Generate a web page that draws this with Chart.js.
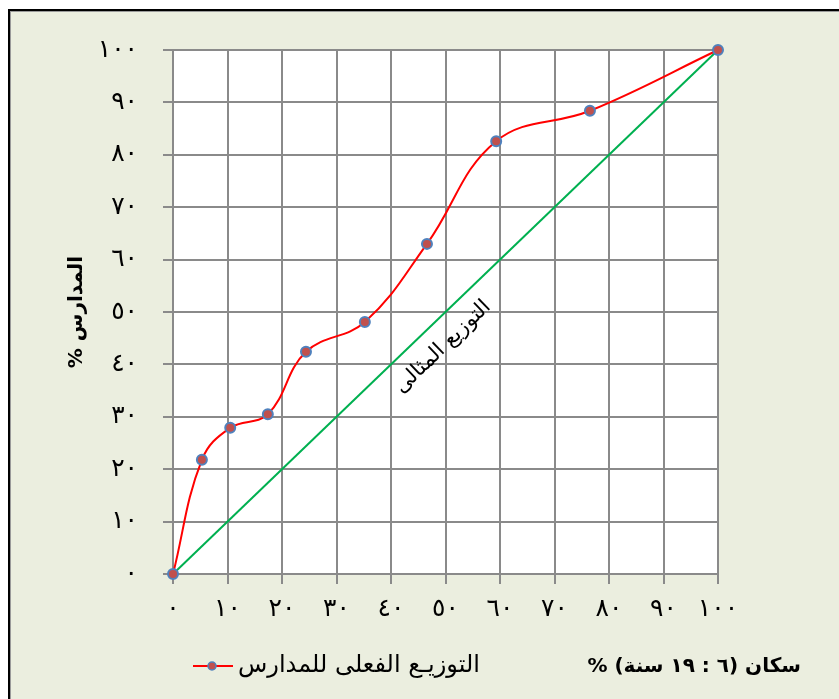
<!DOCTYPE html>
<html>
<head>
<meta charset="utf-8">
<script src="https://cdn.jsdelivr.net/npm/chart.js@4/dist/chart.umd.min.js"></script>
<style>
  html, body { margin: 0; padding: 0; background: #fff; width: 839px; height: 699px; overflow: hidden; }
  #frame {
    position: absolute; left: 8px; top: 9px; width: 840px; height: 700px;
    background: #ebeedf; border-left: 2px solid #000; border-top: 2px solid #000;
    box-shadow: inset 1px 1px 0 #9a9a9a;
  }
  #c { position: absolute; left: 0; top: 0; }
</style>
</head>
<body>
<div id="frame"></div>
<canvas id="c" width="839" height="699" dir="rtl"></canvas>
<script>
// population share (x) vs. schools share (y), cumulative %
const actualX = [0, 5.3, 10.5, 17.4, 24.4, 35.2, 46.6, 59.3, 76.5, 100];
const actualY = [0, 21.8, 27.9, 30.5, 42.4, 48.1, 63.0, 82.6, 88.4, 100];
const idealX = [0, 100];
const idealY = [0, 100];

const xTickLabels = ['٠', '١٠', '٢٠', '٣٠', '٤٠', '٥٠', '٦٠', '٧٠', '٨٠', '٩٠', '١٠٠'];
const yTickLabels = ['٠', '١٠', '٢٠', '٣٠', '٤٠', '٥٠', '٦٠', '٧٠', '٨٠', '٩٠', '١٠٠'];

const legendLabel = 'التوزيـع الفعلى للمدارس';
const idealLabel = 'التوزيع المثالى';
const xTitle = 'سكان (٦ : ١٩ سنة) %';
const yTitle = 'المدارس %';

const ARABIC = '"DejaVu Sans", sans-serif';
const gridColor = '#8a8a8a';

const toPoints = (xs, ys) => xs.map((x, i) => ({ x, y: ys[i] }));

const extras = {
  id: 'extras',
  beforeDraw(chart) {
    const { ctx, chartArea: a } = chart;
    ctx.save();
    ctx.fillStyle = '#ffffff';
    ctx.fillRect(a.left, a.top, a.right - a.left, a.bottom - a.top);
    ctx.restore();
  },
  afterDraw(chart) {
    const { ctx } = chart;
    const xs = chart.scales.x, ys = chart.scales.y;
    const ds = chart.data.datasets[1];

    // label along the ideal line
    const ang = Math.atan2(ys.getPixelForValue(100) - ys.getPixelForValue(0),
                           xs.getPixelForValue(100) - xs.getPixelForValue(0));
    ctx.save();
    ctx.translate(xs.getPixelForValue(49.5), ys.getPixelForValue(43.3));
    ctx.rotate(ang);
    ctx.fillStyle = '#000';
    ctx.font = '21px ' + ARABIC;
    ctx.textAlign = 'center';
    ctx.textBaseline = 'middle';
    ctx.fillText(idealLabel, 0, 0);
    ctx.restore();

    // legend
    const ly = 666;
    ctx.save();
    ctx.strokeStyle = ds.borderColor;
    ctx.lineWidth = 2;
    ctx.beginPath();
    ctx.moveTo(193, ly); ctx.lineTo(233, ly);
    ctx.stroke();
    ctx.beginPath();
    ctx.arc(212, ly, 4, 0, Math.PI * 2);
    ctx.fillStyle = ds.pointBackgroundColor;
    ctx.fill();
    ctx.strokeStyle = ds.pointBorderColor;
    ctx.lineWidth = 1.5;
    ctx.stroke();
    ctx.fillStyle = '#000';
    ctx.font = '24px ' + ARABIC;
    ctx.textAlign = 'left';
    ctx.textBaseline = 'middle';
    ctx.fillText(legendLabel, 238, ly);

    // x axis caption
    ctx.font = 'bold 20px ' + ARABIC;
    ctx.textAlign = 'right';
    ctx.fillText(xTitle, 801, 667);
    ctx.restore();
  }
};

new Chart(document.getElementById('c'), {
  type: 'scatter',
  data: {
    datasets: [
      {
        label: idealLabel,
        data: toPoints(idealX, idealY),
        showLine: true,
        borderColor: '#00b050',
        borderWidth: 2,
        pointRadius: 0,
        order: 2
      },
      {
        label: legendLabel,
        data: toPoints(actualX, actualY),
        showLine: true,
        borderColor: '#ff0000',
        borderWidth: 2,
        tension: 0.4,
        pointRadius: 5,
        pointBackgroundColor: '#c0504d',
        pointBorderColor: '#4f81bd',
        pointBorderWidth: 2,
        order: 1
      }
    ]
  },
  options: {
    responsive: false,
    devicePixelRatio: 1,
    animation: false,
    clip: false,
    layout: { padding: { left: 65, right: 121, top: 50, bottom: 65 } },
    plugins: {
      legend: { display: false },
      tooltip: { enabled: false }
    },
    scales: {
      x: {
        type: 'linear', min: 0, max: 100,
        afterFit(s) { s.height = 60; },
        grid: { color: gridColor, lineWidth: 2, tickLength: 10, tickColor: gridColor },
        border: { color: gridColor, width: 2 },
        ticks: {
          stepSize: 10, padding: 10, color: '#000', maxRotation: 0,
          font: { family: ARABIC, size: 25 },
          callback: v => xTickLabels[Math.round(v / 10)]
        }
      },
      y: {
        type: 'linear', min: 0, max: 100,
        afterFit(s) { s.width = 108; },
        grid: { color: gridColor, lineWidth: 2, tickLength: 10, tickColor: gridColor },
        border: { color: gridColor, width: 2 },
        title: {
          display: true, text: yTitle, color: '#000', padding: 0,
          font: { family: ARABIC, size: 20, weight: 'bold' }
        },
        ticks: {
          stepSize: 10, padding: 25, color: '#000',
          font: { family: ARABIC, size: 25 },
          callback: v => yTickLabels[Math.round(v / 10)]
        }
      }
    }
  },
  plugins: [extras]
});
</script>
</body>
</html>
